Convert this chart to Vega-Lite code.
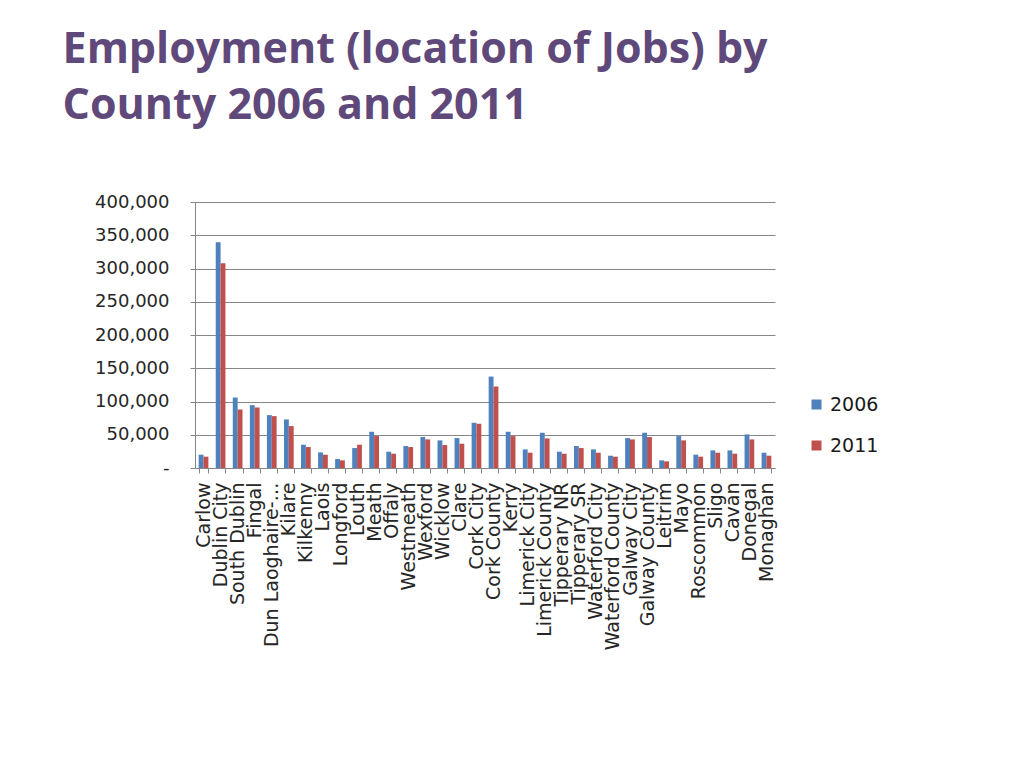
{
  "$schema": "https://vega.github.io/schema/vega-lite/v6.json",
  "width": 580,
  "height": 266,
  "padding": {"left": 62, "top": 29, "right": 10, "bottom": 10},
  "background": "white",
  "title": {
    "text": ["Employment (location of Jobs) by", "County 2006 and 2011"],
    "anchor": "start",
    "font": "Open Sans",
    "fontSize": 43,
    "fontWeight": "bold",
    "color": "#5F497A",
    "lineHeight": 56,
    "offset": 65,
    "dx": -32
  },
  "data": {
    "values": [
      {"county": "Carlow", "year": "2006", "jobs": 20000},
      {"county": "Carlow", "year": "2011", "jobs": 17000},
      {"county": "Dublin City", "year": "2006", "jobs": 339500},
      {"county": "Dublin City", "year": "2011", "jobs": 308000},
      {"county": "South Dublin", "year": "2006", "jobs": 106000},
      {"county": "South Dublin", "year": "2011", "jobs": 88000},
      {"county": "Fingal", "year": "2006", "jobs": 94500},
      {"county": "Fingal", "year": "2011", "jobs": 91000},
      {"county": "Dun Laoghaire-Rathdown", "year": "2006", "jobs": 79500},
      {"county": "Dun Laoghaire-Rathdown", "year": "2011", "jobs": 78000},
      {"county": "Kilare", "year": "2006", "jobs": 73000},
      {"county": "Kilare", "year": "2011", "jobs": 63000},
      {"county": "Kilkenny", "year": "2006", "jobs": 35000},
      {"county": "Kilkenny", "year": "2011", "jobs": 31500},
      {"county": "Laois", "year": "2006", "jobs": 23500},
      {"county": "Laois", "year": "2011", "jobs": 20000},
      {"county": "Longford", "year": "2006", "jobs": 13500},
      {"county": "Longford", "year": "2011", "jobs": 11500},
      {"county": "Louth", "year": "2006", "jobs": 30000},
      {"county": "Louth", "year": "2011", "jobs": 35000},
      {"county": "Meath", "year": "2006", "jobs": 54500},
      {"county": "Meath", "year": "2011", "jobs": 48000},
      {"county": "Offaly", "year": "2006", "jobs": 24500},
      {"county": "Offaly", "year": "2011", "jobs": 21500},
      {"county": "Westmeath", "year": "2006", "jobs": 33000},
      {"county": "Westmeath", "year": "2011", "jobs": 31500},
      {"county": "Wexford", "year": "2006", "jobs": 46500},
      {"county": "Wexford", "year": "2011", "jobs": 43000},
      {"county": "Wicklow", "year": "2006", "jobs": 41500},
      {"county": "Wicklow", "year": "2011", "jobs": 34500},
      {"county": "Clare", "year": "2006", "jobs": 45000},
      {"county": "Clare", "year": "2011", "jobs": 36500},
      {"county": "Cork City", "year": "2006", "jobs": 68000},
      {"county": "Cork City", "year": "2011", "jobs": 66500},
      {"county": "Cork County", "year": "2006", "jobs": 137500},
      {"county": "Cork County", "year": "2011", "jobs": 122500},
      {"county": "Kerry", "year": "2006", "jobs": 54500},
      {"county": "Kerry", "year": "2011", "jobs": 48000},
      {"county": "Limerick City", "year": "2006", "jobs": 28000},
      {"county": "Limerick City", "year": "2011", "jobs": 23000},
      {"county": "Limerick County", "year": "2006", "jobs": 53000},
      {"county": "Limerick County", "year": "2011", "jobs": 44500},
      {"county": "Tipperary NR", "year": "2006", "jobs": 24500},
      {"county": "Tipperary NR", "year": "2011", "jobs": 21500},
      {"county": "Tipperary SR", "year": "2006", "jobs": 33000},
      {"county": "Tipperary SR", "year": "2011", "jobs": 30000},
      {"county": "Waterford City", "year": "2006", "jobs": 28000},
      {"county": "Waterford City", "year": "2011", "jobs": 23000},
      {"county": "Waterford County", "year": "2006", "jobs": 18500},
      {"county": "Waterford County", "year": "2011", "jobs": 17000},
      {"county": "Galway City", "year": "2006", "jobs": 45000},
      {"county": "Galway City", "year": "2011", "jobs": 43000},
      {"county": "Galway County", "year": "2006", "jobs": 53000},
      {"county": "Galway County", "year": "2011", "jobs": 46500},
      {"county": "Leitrim", "year": "2006", "jobs": 11500},
      {"county": "Leitrim", "year": "2011", "jobs": 10000},
      {"county": "Mayo", "year": "2006", "jobs": 48000},
      {"county": "Mayo", "year": "2011", "jobs": 41500},
      {"county": "Roscommon", "year": "2006", "jobs": 20000},
      {"county": "Roscommon", "year": "2011", "jobs": 17000},
      {"county": "Sligo", "year": "2006", "jobs": 26500},
      {"county": "Sligo", "year": "2011", "jobs": 23000},
      {"county": "Cavan", "year": "2006", "jobs": 26500},
      {"county": "Cavan", "year": "2011", "jobs": 21500},
      {"county": "Donegal", "year": "2006", "jobs": 50500},
      {"county": "Donegal", "year": "2011", "jobs": 43000},
      {"county": "Monaghan", "year": "2006", "jobs": 23000},
      {"county": "Monaghan", "year": "2011", "jobs": 18500}
    ]
  },
  "mark": {"type": "bar"},
  "encoding": {
    "x": {
      "field": "county",
      "type": "nominal",
      "sort": null,
      "scale": {"paddingInner": 0.43, "paddingOuter": 0.215},
      "axis": {
        "title": null,
        "labelAngle": -90,
        "labelFont": "DejaVu Sans",
        "labelFontSize": 19,
        "labelColor": "#262626",
        "labelPadding": 9,
        "labelOverlap": false,
        "labelLimit": 200,
        "labelExpr": "datum.label == 'Dun Laoghaire-Rathdown' ? 'Dun Laoghaire-…' : datum.label",
        "tickBand": "extent",
        "tickSize": 5,
        "tickColor": "#868686",
        "domainColor": "#868686"
      }
    },
    "xOffset": {
      "field": "year",
      "type": "nominal",
      "scale": {"paddingInner": 0, "paddingOuter": 0}
    },
    "y": {
      "field": "jobs",
      "type": "quantitative",
      "scale": {"domain": [0, 400000]},
      "axis": {
        "title": null,
        "values": [0, 50000, 100000, 150000, 200000, 250000, 300000, 350000, 400000],
        "labelExpr": "datum.value == 0 ? '-' : format(datum.value, ',')",
        "labelFont": "DejaVu Sans",
        "labelFontSize": 18,
        "labelColor": "#262626",
        "labelPadding": 21,
        "tickSize": 5,
        "tickColor": "#868686",
        "gridColor": "#868686",
        "gridOpacity": 1,
        "domainColor": "#868686"
      }
    },
    "color": {
      "field": "year",
      "type": "nominal",
      "scale": {"domain": ["2006", "2011"], "range": ["#4F81BD", "#C0504D"]},
      "legend": {
        "title": null,
        "orient": "none",
        "legendX": 612,
        "legendY": 193,
        "symbolType": "square",
        "symbolSize": 100,
        "symbolStrokeWidth": 0,
        "labelFont": "DejaVu Sans",
        "labelFontSize": 19,
        "labelColor": "#1a1a1a",
        "rowPadding": 21
      }
    }
  },
  "config": {"view": {"stroke": null}}
}
